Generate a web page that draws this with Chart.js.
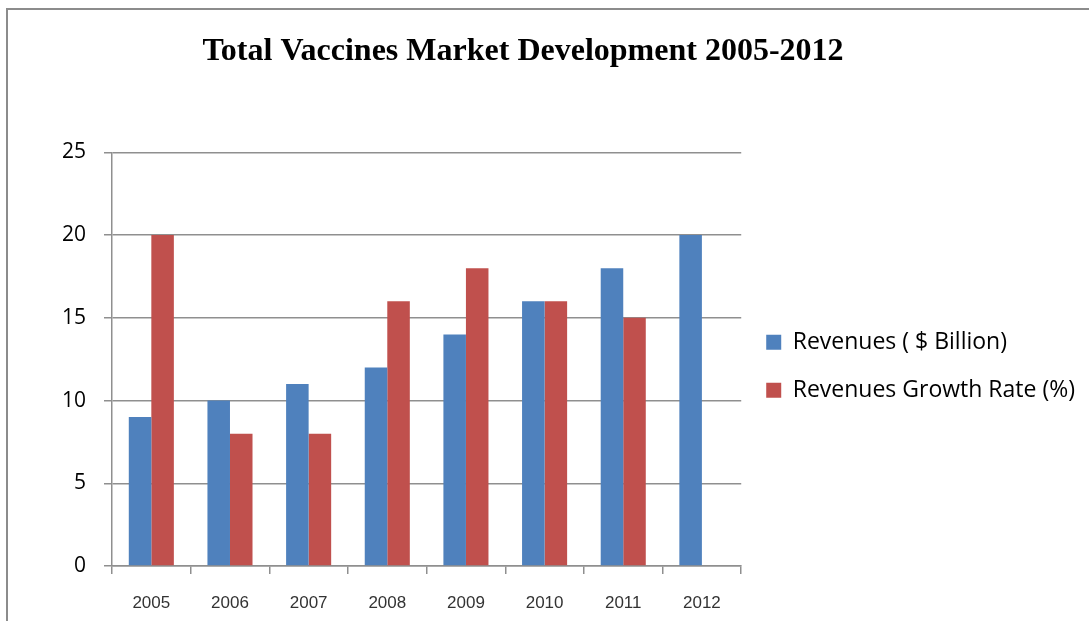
<!DOCTYPE html>
<html>
<head>
<meta charset="utf-8">
<script src="https://cdn.jsdelivr.net/npm/chart.js@4.4.0/dist/chart.umd.min.js"></script>
<style>
  html, body { margin: 0; padding: 0; background: #fff; overflow: hidden; }
  #frame { position: absolute; left: 6px; top: 8px; width: 2000px; height: 2000px; border: 2px solid #8c8c8c; }
  #wrap { position: absolute; left: -39px; top: 0; width: 1128px; height: 621px; }
</style>
</head>
<body>
<div id="frame"></div>
<div id="wrap"><canvas id="myChart" width="1128" height="621"></canvas></div>
<script>
var years = ['2005', '2006', '2007', '2008', '2009', '2010', '2011', '2012'];
var revenues = [9, 10, 11, 12, 14, 16, 18, 20];
var growthRate = [20, 8, 8, 16, 18, 16, 15, null];
var yTicks = [0, 5, 10, 15, 20, 25];

var gridColor = '#8f8f8f';

var ctx = document.getElementById('myChart').getContext('2d');
var myChart = new Chart(ctx, {
    type: 'bar',
    data: {
        labels: years,
        datasets: [
            {
                label: 'Revenues ( $ Billion)',
                data: revenues,
                backgroundColor: '#4F81BD'
            },
            {
                label: 'Revenues Growth Rate (%)',
                data: growthRate,
                backgroundColor: '#C0504D'
            }
        ]
    },
    options: {
        responsive: false,
        animation: false,
        categoryPercentage: 0.573,
        barPercentage: 1,
        layout: { padding: { left: 0, right: 4, top: 0, bottom: 0 } },
        plugins: {
            title: {
                display: true,
                text: 'Total Vaccines Market Development 2005-2012',
                color: '#000',
                font: { family: 'Liberation Serif', size: 32, weight: 'bold' },
                padding: { top: 33, bottom: 81 }
            },
            legend: {
                position: 'right',
                fullSize: false,
                align: 'center',
                maxWidth: 400,
                // empty title only pushes the two rows down a bit
                title: { display: true, text: ' ', font: { size: 10 }, padding: { top: 1, bottom: 1 } },
                labels: {
                    color: '#000',
                    font: { family: 'Open Sans', size: 23 },
                    boxWidth: 15,
                    boxHeight: 15,
                    padding: 25
                }
            },
            tooltip: { enabled: false }
        },
        scales: {
            x: {
                grid: {
                    offset: true,
                    drawOnChartArea: false,
                    color: gridColor,
                    lineWidth: 1.5,
                    tickLength: 8
                },
                border: { display: true, color: gridColor, width: 1.5 },
                ticks: {
                    color: '#333',
                    font: { family: 'Liberation Sans', size: 17 },
                    padding: 19
                },
                afterFit: function (scale) { scale.height = 55; }
            },
            y: {
                min: 0,
                max: 25,
                afterBuildTicks: function (scale) {
                    scale.ticks = yTicks.map(function (v) { return { value: v }; });
                },
                grid: {
                    color: gridColor,
                    lineWidth: 1.5,
                    tickLength: 8
                },
                border: { display: true, color: gridColor, width: 1.5 },
                ticks: {
                    color: '#000',
                    font: { family: 'Open Sans', size: 21 },
                    padding: 18
                },
                afterFit: function (scale) { scale.width = 151; }
            }
        }
    }
});
</script>
</body>
</html>
